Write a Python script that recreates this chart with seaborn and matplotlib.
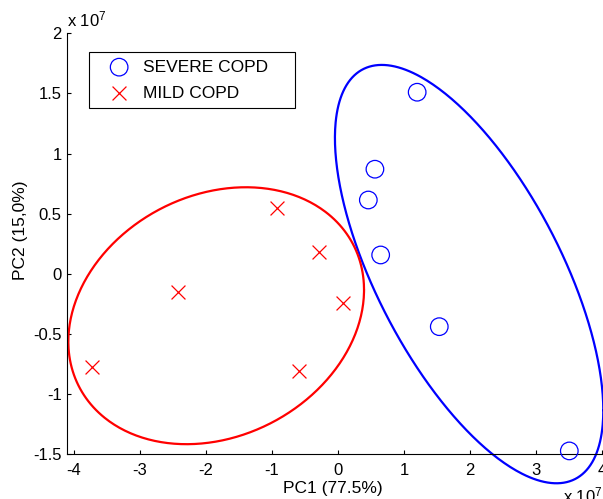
import numpy as np
import pandas as pd
import matplotlib
matplotlib.use("Agg")
import matplotlib.pyplot as plt
from matplotlib.ticker import FuncFormatter
import seaborn as sns

# ---------------- data (PCA scores) ----------------
severe_label = "SEVERE COPD"
mild_label = "MILD COPD"
severe_pc1 = [1.20e7, 0.56e7, 0.46e7, 0.647e7, 1.535e7, 3.505e7]
severe_pc2 = [1.51e7, 0.87e7, 0.614e7, 0.157e7, -0.439e7, -1.472e7]
mild_pc1 = [-3.73e7, -2.43e7, -0.924e7, -0.293e7, 0.071e7, -0.586e7]
mild_pc2 = [-0.771e7, -0.150e7, 0.548e7, 0.185e7, -0.239e7, -0.805e7]

# ellipses: centre (pc1, pc2), half-range in pc1, half-range in pc2,
# pc2 offset at the pc1-extreme point
severe_ell_center = [1.987e7, -0.002e7]
severe_ell_half_x = 2.033e7
severe_ell_half_y = 1.739e7
severe_ell_tilt = -1.132e7
mild_ell_center = [-1.845e7, -0.348e7]
mild_ell_half_x = 2.240e7
mild_ell_half_y = 1.068e7
mild_ell_tilt = 0.2145e7

x_ticks = [-4, -3, -2, -1, 0, 1, 2, 3, 4]
y_ticks = [-1.5, -1, -0.5, 0, 0.5, 1, 1.5, 2]
x_label = "PC1 (77.5%)"
y_label = "PC2 (15,0%)"
scale = 1e7

severe_df = pd.DataFrame({"PC1": severe_pc1, "PC2": severe_pc2})
mild_df = pd.DataFrame({"PC1": mild_pc1, "PC2": mild_pc2})

# ---------------- style ----------------
sns.set_style("ticks")
plt.rcParams["font.family"] = ["Liberation Sans", "DejaVu Sans"]
plt.rcParams["mathtext.fontset"] = "custom"
plt.rcParams["mathtext.rm"] = "Liberation Sans"
plt.rcParams["mathtext.default"] = "regular"
plt.rcParams["axes.unicode_minus"] = False

BLUE = "#0000ff"
RED = "#ff0000"

fig = plt.figure(figsize=(6.03, 4.99), dpi=100)
ax = fig.add_axes([0.1106, 0.0896, 0.8877, 0.8437])


def ellipse_curve(center, hx, hy, tilt):
    t = np.linspace(0, 2 * np.pi, 400)
    x = center[0] + hx * np.cos(t)
    y = center[1] + tilt * np.cos(t) + np.sqrt(hy ** 2 - tilt ** 2) * np.sin(t)
    return x, y


ex, ey = ellipse_curve(severe_ell_center, severe_ell_half_x, severe_ell_half_y, severe_ell_tilt)
ax.plot(ex, ey, color=BLUE, lw=1.6, zorder=2, clip_on=False)
ex, ey = ellipse_curve(mild_ell_center, mild_ell_half_x, mild_ell_half_y, mild_ell_tilt)
ax.plot(ex, ey, color=RED, lw=1.6, zorder=2, clip_on=False)

sns.scatterplot(data=severe_df, x="PC1", y="PC2", ax=ax, marker="o", s=160,
                color=BLUE, facecolor="none", edgecolor=BLUE, linewidth=0.9,
                label=severe_label, zorder=3, clip_on=False)
sns.scatterplot(data=mild_df, x="PC1", y="PC2", ax=ax, marker="x", s=100,
                color=RED, linewidth=0.9, label=mild_label, zorder=3)

ax.set_xlim(-4.11 * scale, 4.0 * scale)
ax.set_ylim(-1.5 * scale, 2.0 * scale)
ax.set_xticks(np.array(x_ticks) * scale)
ax.set_yticks(np.array(y_ticks) * scale)
fmt = FuncFormatter(lambda v, p: f"{v / scale:g}")
ax.xaxis.set_major_formatter(fmt)
ax.yaxis.set_major_formatter(fmt)

for side in ["top", "right"]:
    ax.spines[side].set_visible(False)
for side in ["left", "bottom"]:
    ax.spines[side].set_color("black")
    ax.spines[side].set_linewidth(0.8)
ax.tick_params(direction="in", length=3.2, width=0.8, colors="black",
               labelsize=12, top=False, right=False)
ax.tick_params(axis="x", pad=6.5)
ax.tick_params(axis="y", pad=3.5)

ax.set_xlabel(x_label, fontsize=12.5, color="black", va="center")
ax.set_ylabel(y_label, fontsize=12.5, color="black", va="center")
ax.xaxis.set_label_coords(0.4966, -0.0824)
ax.yaxis.set_label_coords(-0.0872, 0.533)

leg = ax.legend(loc="upper left", bbox_to_anchor=(0.0422, 0.9549, 0.3837, 0.0),
                mode="expand", borderaxespad=0.0, borderpad=0.42,
                labelspacing=0.62, handlelength=2.6, handletextpad=0.05,
                fontsize=12.5, frameon=True, fancybox=False, framealpha=1,
                edgecolor="black")
leg.get_frame().set_linewidth(0.8)
for t in leg.get_texts():
    t.set_color("black")

# exponent labels (MATLAB style)
fig.text(67 / 603, 1 - 26.7 / 499, r"x 10$^7$", fontsize=12, ha="left",
         va="baseline", color="black")
fig.text(563 / 603, 1 - 502 / 499, r"x 10$^7$", fontsize=12, ha="left",
         va="baseline", color="black")

fig.savefig("out.png", dpi=100)
